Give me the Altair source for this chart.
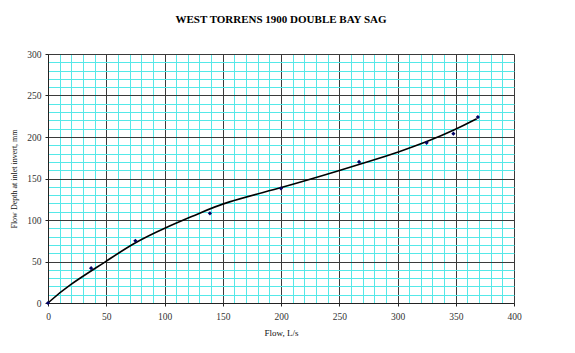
import altair as alt
import pandas as pd

# Measured data points
flow_pts = [0, 37, 75, 139, 200, 267, 325, 348, 369]
depth_pts = [0, 42, 75, 108, 138, 170, 193, 204, 224]

# Fitted curve
flow_fit = [0, 16, 51, 73, 101, 130, 151, 201, 251, 279, 301, 325, 350, 368]
depth_fit = [0, 20, 51, 72, 91, 108, 121, 139, 160, 172, 182, 194, 209, 222]

x_ticks = list(range(0, 401, 10))
y_ticks = list(range(0, 301, 10))

pts = pd.DataFrame({"flow": flow_pts, "depth": depth_pts})
fit = pd.DataFrame({"flow": flow_fit, "depth": depth_fit})

FONT = "Liberation Serif"
MAJOR = "#3a3a3a"
MINOR = "#55e8e8"

grid_color = {"condition": {"test": "datum.value % 50 === 0", "value": MAJOR}, "value": MINOR}
tick_op = {"condition": {"test": "datum.value % 50 === 0", "value": 1}, "value": 0}
lab = "datum.value % 50 === 0 ? datum.label : ''"

x_enc = alt.X("flow:Q", scale=alt.Scale(domain=[0, 400], nice=False),
              axis=alt.Axis(values=x_ticks, title="Flow, L/s", grid=True,
                            gridColor=grid_color, gridWidth=1, gridOpacity=1,
                            tickOpacity=tick_op, tickSize=3, tickColor="#222",
                            labelExpr=lab, labelFont=FONT, labelFontSize=9.5,
                            labelColor="#333", labelPadding=5,
                            titleFont=FONT, titleFontSize=9, titleFontWeight="normal",
                            titleColor="#111", titlePadding=8,
                            domainColor="#222", labelFlush=False, labelOverlap=False))
y_enc = alt.Y("depth:Q", scale=alt.Scale(domain=[0, 300], nice=False),
              axis=alt.Axis(values=y_ticks, title="Flow Depth at inlet invert, mm", grid=True,
                            gridColor=grid_color, gridWidth=1, gridOpacity=1,
                            tickOpacity=tick_op, tickSize=3, tickColor="#222",
                            labelExpr=lab, labelFont=FONT, labelFontSize=9.5,
                            labelColor="#333", labelPadding=4,
                            titleFont=FONT, titleFontSize=8, titleFontWeight="normal",
                            titleColor="#111", titlePadding=8,
                            domainColor="#222", labelFlush=False, labelOverlap=False))

line = alt.Chart(fit).mark_line(color="black", strokeWidth=1.6, interpolate="basis").encode(
    x=x_enc, y=y_enc)
points = alt.Chart(pts).mark_point(shape="diamond", filled=True, color="#000066",
                                   size=18, opacity=1).encode(x=x_enc, y=y_enc)

chart = alt.layer(line, points).properties(
    width=466, height=249,
    title=alt.TitleParams("WEST TORRENS 1900 DOUBLE BAY SAG", font=FONT, fontSize=11,
                          fontWeight="bold", color="black", anchor="middle", offset=24),
    padding={"left": 48, "top": 54, "right": 61, "bottom": 50},
    autosize="none",
).configure_view(stroke=MAJOR, strokeWidth=1).configure(background="white")

chart.save("out.html", embed_options={"renderer": "svg", "actions": False})
